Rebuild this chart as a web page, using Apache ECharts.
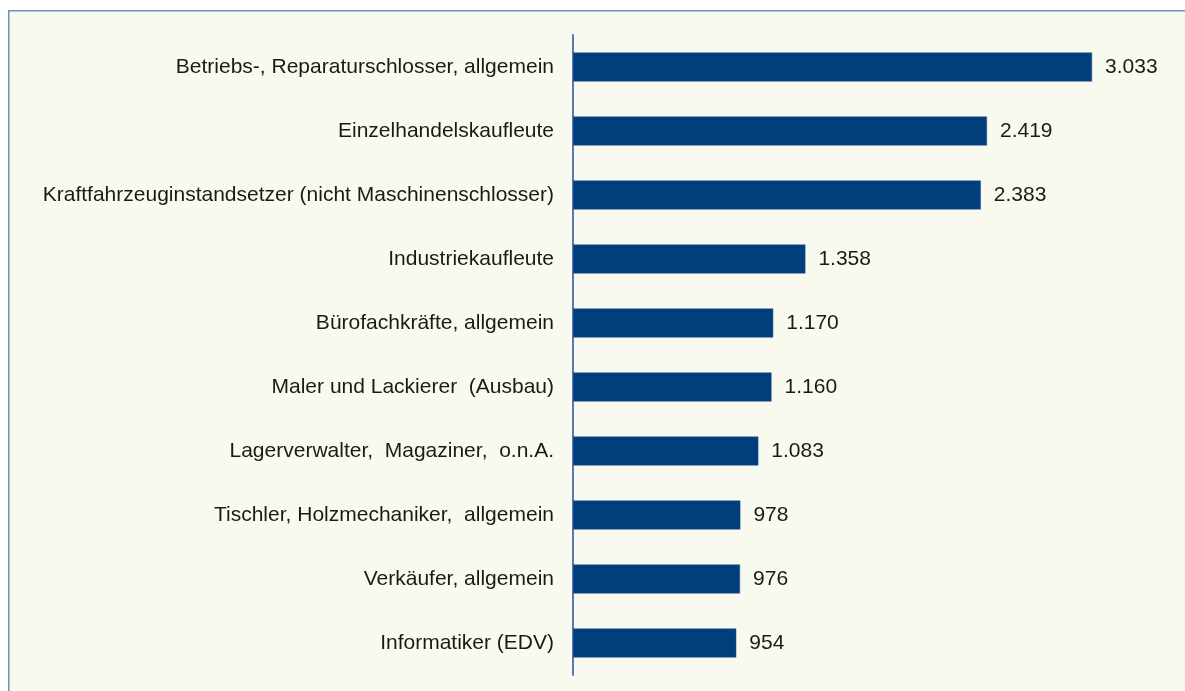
<!DOCTYPE html>
<html>
<head>
<meta charset="utf-8">
<script src="https://cdn.jsdelivr.net/npm/echarts@6/dist/echarts.min.js"></script>
<style>
  html, body { margin: 0; padding: 0; background: #fff; }
  #chart { width: 1185px; height: 691px; }
</style>
</head>
<body>
<div id="chart"></div>
<script>
  // Berufe, von oben nach unten
  let categories = [
    'Betriebs-, Reparaturschlosser, allgemein',
    'Einzelhandelskaufleute',
    'Kraftfahrzeuginstandsetzer (nicht Maschinenschlosser)',
    'Industriekaufleute',
    'Bürofachkräfte, allgemein',
    'Maler und Lackierer  (Ausbau)',
    'Lagerverwalter,  Magaziner,  o.n.A.',
    'Tischler, Holzmechaniker,  allgemein',
    'Verkäufer, allgemein',
    'Informatiker (EDV)'
  ];
  let values = [3033, 2419, 2383, 1358, 1170, 1160, 1083, 978, 976, 954];

  // Tausenderpunkt
  function fmt(v) {
    return String(v).replace(/\B(?=(\d{3})+(?!\d))/g, '.');
  }

  let myChart = echarts.init(document.getElementById('chart'));

  let option = {
    backgroundColor: '#ffffff',
    animation: false,
    graphic: [{
      type: 'rect',
      left: 8,
      top: 10,
      shape: { width: 1190, height: 700 },
      style: { fill: '#f9faef', stroke: '#7190c2', lineWidth: 1.5 },
      z: -10
    }],
    grid: {
      left: 573,
      top: 35,
      bottom: 16,
      right: 13
    },
    xAxis: {
      type: 'value',
      min: 0,
      max: 3500,
      show: false
    },
    yAxis: {
      type: 'category',
      inverse: true,
      data: categories,
      axisLine: { show: true, lineStyle: { color: '#5b79b3', width: 2 } },
      axisTick: { show: false },
      axisLabel: {
        margin: 19,
        color: '#1a1a1a',
        fontSize: 21,
        fontFamily: 'Liberation Sans, Arial, sans-serif'
      }
    },
    series: [{
      type: 'bar',
      data: values,
      barWidth: 29,
      itemStyle: { color: '#023e7c', borderColor: '#2a5a94', borderWidth: 0.5 },
      label: {
        show: true,
        position: 'right',
        distance: 13,
        color: '#1a1a1a',
        fontSize: 21,
        fontFamily: 'Liberation Sans, Arial, sans-serif',
        formatter: function (p) { return fmt(p.value); }
      }
    }]
  };
  myChart.setOption(option);
</script>
</body>
</html>
